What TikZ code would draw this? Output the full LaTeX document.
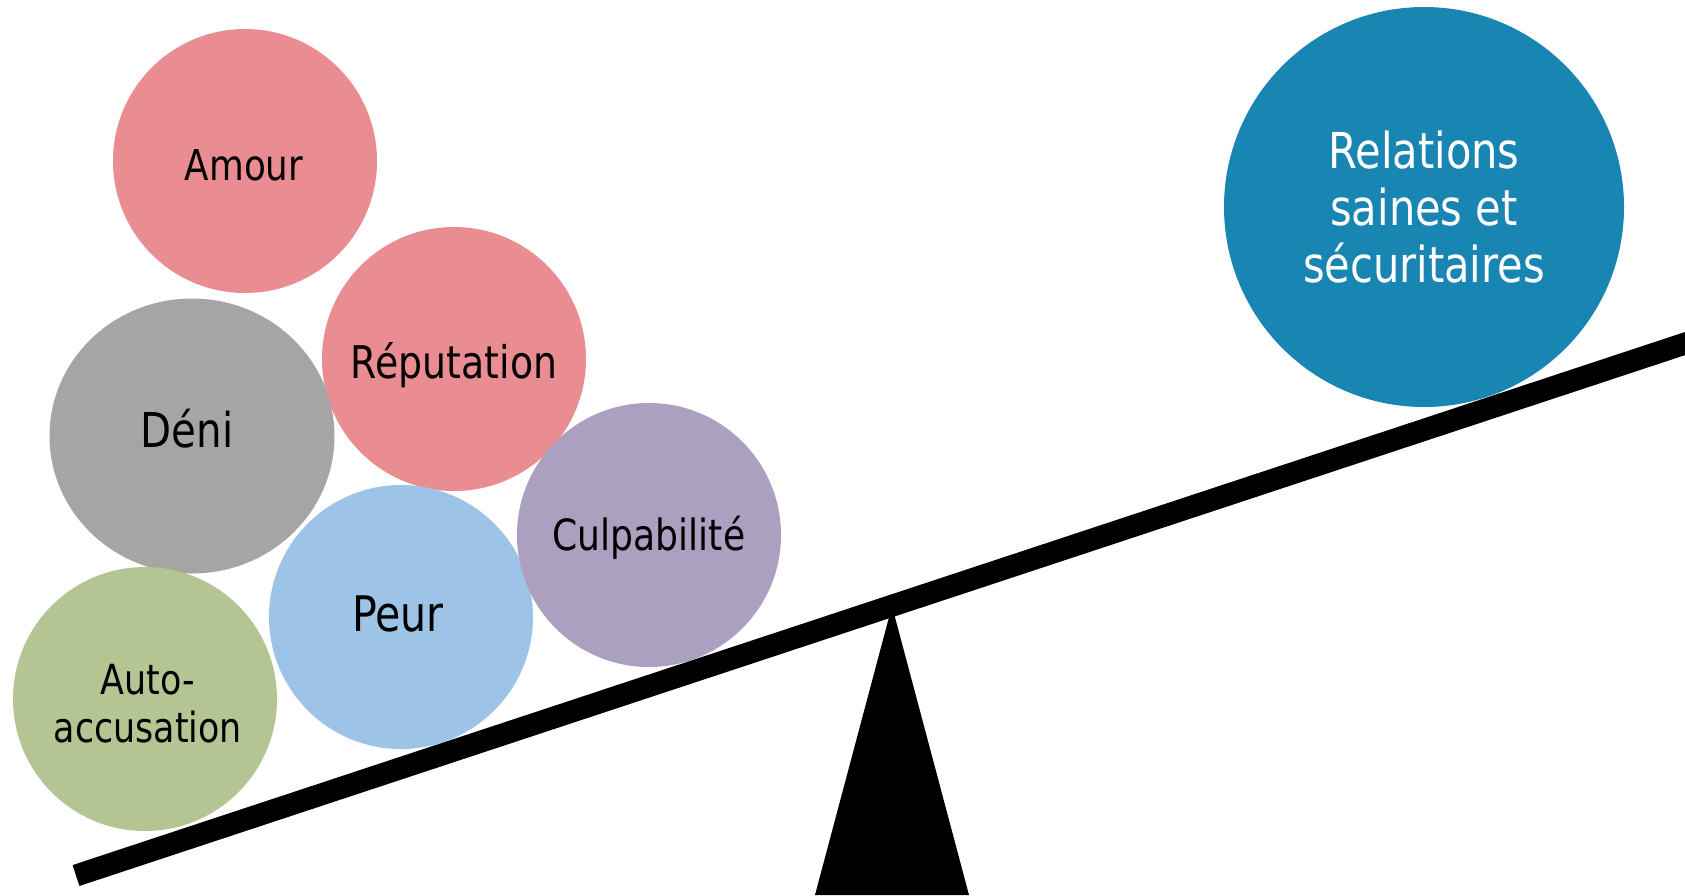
\documentclass[tikz,border=0pt]{standalone}
\usepackage{fontspec}
\setmainfont{DejaVu Sans}[FakeStretch=0.84]
\usetikzlibrary{shapes.geometric}
\definecolor{cpink}{HTML}{E98D93}
\definecolor{cgrey}{HTML}{A5A5A5}
\definecolor{cgreen}{HTML}{B4C593}
\definecolor{cblue}{HTML}{9DC3E6}
\definecolor{cpurple}{HTML}{ACA0C0}
\definecolor{cteal}{HTML}{1985B2}
\tikzset{
  bubble/.style={circle, draw=none, inner sep=0pt, minimum size=264pt},
  lbl/.style={inner sep=0pt, align=center, text=black},
  fs/.style={font=\fontsize{#1}{48}\selectfont},
}
\begin{document}
\begin{tikzpicture}[x=1pt,y=-1pt]
\useasboundingbox (0,0) rectangle (1685,895);
\clip (0,0) rectangle (1685,895);
% bubbles
\node[bubble, fill=cpink] (amour) at (245,161) {};
\node[bubble, fill=cpink] (reput) at (454,359) {};
\node[ellipse, draw=none, fill=cgrey, inner sep=0pt, minimum width=285pt, minimum height=275pt] (deni) at (192,436) {};
\node[bubble, fill=cgreen] (auto) at (145,699) {};
\node[bubble, fill=cblue] (peur) at (401,617) {};
\node[bubble, fill=cpurple] (culp) at (649,535) {};
\node[circle, draw=none, fill=cteal, inner sep=0pt, minimum size=400pt] (rel) at (1424,207) {};
% labels
\node[lbl, fs=42.5] (amourT) at ([xshift=-1pt,yshift=-4pt]amour.center) {Amour};
\node[lbl, fs=45] (reputT) at ([yshift=-6pt]reput.center) {Réputation};
\node[lbl, fs=48] (deniT) at ([xshift=-5pt,yshift=7pt]deni.center) {Déni};
\node[lbl, fs=49] (peurT) at ([xshift=-3pt,yshift=3pt]peur.center) {Peur};
\node[lbl, fs=43] (culpT) at ([yshift=-3pt]culp.center) {Culpabilité};
\node[lbl, font=\fontsize{41.5}{48}\selectfont] (autoT) at ([xshift=3pt,yshift=-4.5pt]auto.center) {Auto-\\accusation};
\node[lbl, text=white, font=\fontsize{49.5}{57}\selectfont] (relT) at (rel.center) {Relations\\saines et\\sécuritaires};
% fulcrum
\coordinate (apex) at (892,606);
\coordinate (baseL) at (815,895);
\coordinate (baseR) at (969,895);
\fill[black] (apex) -- (baseL) -- (baseR) -- cycle;
% beam
\coordinate (beamL) at (76,875.5);
\coordinate (beamR) at (1720,332.0);
\draw[black, line width=22pt, line cap=butt] (beamL) -- (beamR);
\end{tikzpicture}
\end{document}
